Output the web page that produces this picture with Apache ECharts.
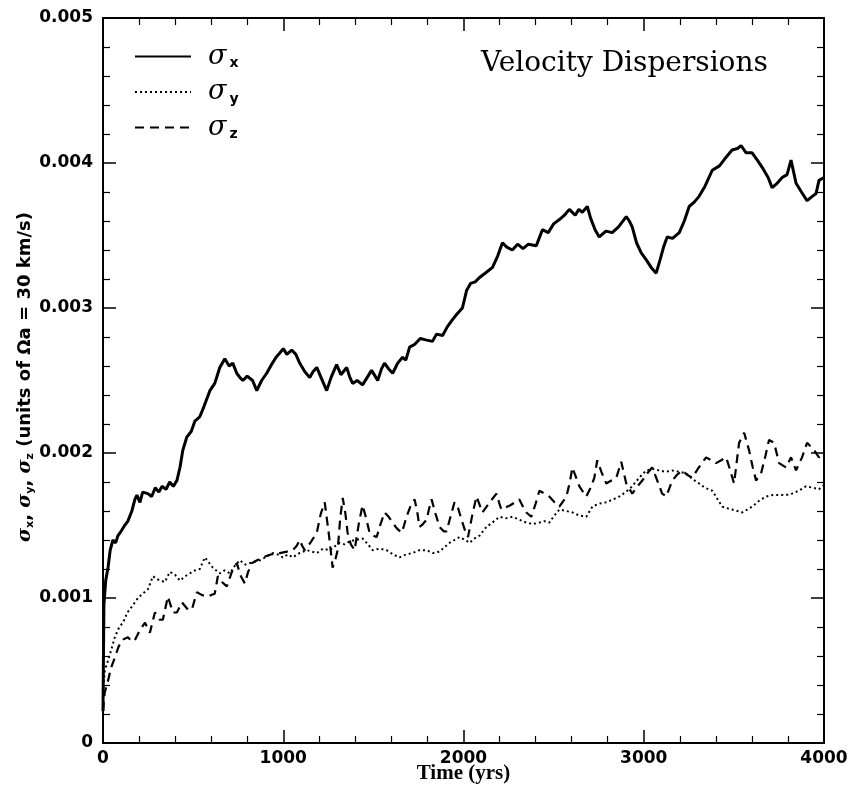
<!DOCTYPE html>
<html>
<head>
<meta charset="utf-8">
<script src="https://cdn.jsdelivr.net/npm/echarts@6/dist/echarts.min.js"></script>
<style>
  html, body { margin: 0; padding: 0; background: #fff; }
  #main { width: 849px; height: 786px; }
</style>
</head>
<body>
<div id="main"></div>
<script>
// 横轴刻度 (yrs)
const xTicks = [0, 1000, 2000, 3000, 4000]
// 纵轴刻度
const yTicks = [0, 0.001, 0.002, 0.003, 0.004, 0.005]

// sigma_x  [时间, 数值]
const sigmaX = [
  [0, 0.00022], [5, 0.00095], [15, 0.00112], [28, 0.00121], [40, 0.00133], [55, 0.0014], [70, 0.00138], [83, 0.00143],
  [100, 0.00146], [120, 0.0015], [138, 0.00153], [160, 0.0016], [177, 0.00168], [188, 0.00171], [205, 0.00166], [220, 0.00173],
  [249, 0.00172], [270, 0.0017], [290, 0.00176], [310, 0.00173], [327, 0.00177], [350, 0.00175], [370, 0.0018], [390, 0.00177],
  [410, 0.00181], [427, 0.0019], [443, 0.00202], [465, 0.00211], [490, 0.00215], [510, 0.00222], [537, 0.00225], [560, 0.00232],
  [593, 0.00243], [620, 0.00248], [648, 0.00259], [676, 0.00265], [700, 0.0026], [720, 0.00262], [742, 0.00255], [760, 0.00252],
  [776, 0.0025], [800, 0.00253], [830, 0.0025], [853, 0.00243], [880, 0.0025], [908, 0.00255], [940, 0.00262], [960, 0.00266],
  [981, 0.00269], [1000, 0.00272], [1020, 0.00268], [1047, 0.00271], [1070, 0.00268], [1091, 0.00262], [1120, 0.00256],
  [1147, 0.00252], [1165, 0.00256], [1186, 0.00259], [1210, 0.00252], [1241, 0.00243], [1265, 0.00252], [1296, 0.00261],
  [1320, 0.00254], [1352, 0.00259], [1370, 0.00252], [1385, 0.00248], [1410, 0.0025], [1440, 0.00247], [1465, 0.00252],
  [1490, 0.00257], [1510, 0.00253], [1524, 0.0025], [1545, 0.00258], [1562, 0.00262], [1585, 0.00258], [1607, 0.00255],
  [1635, 0.00262], [1662, 0.00266], [1680, 0.00264], [1701, 0.00273], [1730, 0.00275], [1760, 0.00279], [1790, 0.00278],
  [1828, 0.00277], [1850, 0.00282], [1884, 0.00281], [1910, 0.00287], [1939, 0.00292], [1965, 0.00296], [1994, 0.003],
  [2017, 0.00312], [2040, 0.00317], [2065, 0.00318], [2089, 0.00321], [2120, 0.00324], [2161, 0.00328], [2190, 0.00336],
  [2216, 0.00345], [2240, 0.00342], [2271, 0.0034], [2300, 0.00344], [2330, 0.00341], [2360, 0.00344], [2404, 0.00343],
  [2438, 0.00354], [2470, 0.00352], [2500, 0.00358], [2532, 0.00361], [2560, 0.00364], [2587, 0.00368], [2620, 0.00364],
  [2640, 0.00368], [2659, 0.00366], [2687, 0.0037], [2705, 0.00362], [2730, 0.00354], [2753, 0.00349], [2790, 0.00353],
  [2825, 0.00352], [2860, 0.00356], [2903, 0.00363], [2920, 0.0036], [2936, 0.00356], [2960, 0.00345], [2986, 0.00338],
  [3015, 0.00333], [3041, 0.00328], [3069, 0.00324], [3090, 0.00333], [3110, 0.00342], [3130, 0.00349], [3160, 0.00348],
  [3197, 0.00352], [3225, 0.0036], [3252, 0.0037], [3280, 0.00373], [3307, 0.00377], [3340, 0.00384], [3380, 0.00395],
  [3420, 0.00398], [3457, 0.00404], [3490, 0.00409], [3520, 0.0041], [3540, 0.00412], [3568, 0.00407], [3601, 0.00407],
  [3630, 0.00402], [3657, 0.00397], [3690, 0.0039], [3712, 0.00383], [3740, 0.00386], [3768, 0.0039], [3795, 0.00392],
  [3817, 0.00402], [3845, 0.00386], [3875, 0.0038], [3906, 0.00374], [3935, 0.00377], [3956, 0.00379], [3972, 0.00388],
  [4000, 0.0039]
]

// sigma_y
const sigmaY = [
  [0, 0.00035], [10, 0.0005], [28, 0.00057], [45, 0.00064], [66, 0.00073], [90, 0.0008], [111, 0.00083], [135, 0.0009],
  [160, 0.00094], [194, 0.001], [220, 0.00103], [249, 0.00106], [277, 0.00115], [300, 0.00113], [343, 0.00111], [371, 0.00118],
  [400, 0.00116], [427, 0.00112], [455, 0.00115], [482, 0.00117], [510, 0.00119], [537, 0.0012], [565, 0.00128], [590, 0.00124],
  [609, 0.00121], [648, 0.00117], [675, 0.00119], [704, 0.00117], [730, 0.00122], [759, 0.00126], [790, 0.00123], [814, 0.00124],
  [840, 0.00125], [870, 0.00126], [900, 0.00128], [942, 0.00131], [970, 0.0013], [997, 0.00128], [1025, 0.0013], [1053, 0.00128],
  [1090, 0.00131], [1130, 0.00133], [1160, 0.00132], [1186, 0.00131], [1220, 0.00134], [1258, 0.00133], [1290, 0.00136],
  [1313, 0.00138], [1340, 0.00137], [1368, 0.00139], [1400, 0.0014], [1440, 0.00141], [1470, 0.00137], [1496, 0.00133],
  [1535, 0.00134], [1573, 0.00133], [1610, 0.0013], [1645, 0.00128], [1680, 0.0013], [1717, 0.00131], [1755, 0.00133],
  [1795, 0.00133], [1830, 0.00131], [1867, 0.00132], [1895, 0.00135], [1922, 0.00138], [1950, 0.0014], [1978, 0.00142],
  [2010, 0.0014], [2033, 0.00138], [2060, 0.00141], [2089, 0.00143], [2127, 0.00149], [2160, 0.00152], [2199, 0.00156],
  [2235, 0.00155], [2271, 0.00156], [2310, 0.00154], [2349, 0.00152], [2385, 0.00151], [2421, 0.00152], [2450, 0.00153],
  [2476, 0.00152], [2505, 0.00157], [2532, 0.00161], [2570, 0.0016], [2604, 0.00159], [2640, 0.00157], [2681, 0.00156],
  [2715, 0.00163], [2750, 0.00165], [2792, 0.00166], [2830, 0.00168], [2864, 0.0017], [2900, 0.00173], [2936, 0.00177],
  [2975, 0.00183], [3014, 0.00188], [3050, 0.00189], [3086, 0.00188], [3120, 0.00187], [3158, 0.00188], [3200, 0.00187],
  [3235, 0.00186], [3270, 0.00182], [3307, 0.00179], [3340, 0.00176], [3380, 0.00174], [3410, 0.00168], [3435, 0.00163],
  [3460, 0.00162], [3490, 0.00161], [3520, 0.0016], [3546, 0.00159], [3575, 0.00161], [3601, 0.00163], [3640, 0.00167],
  [3679, 0.0017], [3715, 0.00171], [3751, 0.00171], [3790, 0.00171], [3823, 0.00172], [3860, 0.00174], [3900, 0.00177],
  [3940, 0.00176], [3972, 0.00175], [4000, 0.00178]
]

// sigma_z
const sigmaZ = [
  [0, 0.00022], [10, 0.00035], [28, 0.00043], [45, 0.00052], [66, 0.00059], [85, 0.00066], [105, 0.00071], [138, 0.00073],
  [160, 0.0007], [177, 0.00071], [205, 0.00078], [233, 0.00083], [260, 0.00076], [288, 0.0009], [316, 0.00085], [332, 0.00085],
  [360, 0.00101], [388, 0.0009], [410, 0.0009], [438, 0.00097], [471, 0.00092], [493, 0.00092], [521, 0.00104], [550, 0.00102],
  [576, 0.00101], [600, 0.00102], [620, 0.00103], [637, 0.00115], [660, 0.00111], [687, 0.00108], [715, 0.00118], [742, 0.00124],
  [765, 0.00115], [787, 0.0011], [805, 0.00118], [825, 0.00124], [855, 0.00126], [886, 0.00128], [930, 0.0013], [981, 0.00131],
  [1020, 0.00132], [1053, 0.00133], [1075, 0.00136], [1091, 0.0014], [1105, 0.00136], [1119, 0.00133], [1150, 0.00138],
  [1186, 0.00145], [1208, 0.00158], [1230, 0.00166], [1252, 0.00145], [1274, 0.00121], [1290, 0.00127], [1302, 0.00133],
  [1316, 0.00155], [1330, 0.00169], [1345, 0.00158], [1357, 0.00145], [1375, 0.00137], [1396, 0.00133], [1420, 0.00152],
  [1440, 0.00164], [1460, 0.00155], [1479, 0.00145], [1500, 0.00143], [1518, 0.00142], [1540, 0.00151], [1562, 0.00159],
  [1585, 0.00156], [1607, 0.00152], [1630, 0.00148], [1657, 0.00145], [1670, 0.0015], [1684, 0.00156], [1705, 0.00163],
  [1729, 0.00168], [1745, 0.00158], [1756, 0.00149], [1775, 0.00151], [1795, 0.00154], [1810, 0.00162], [1823, 0.00168],
  [1845, 0.00158], [1867, 0.00149], [1890, 0.00146], [1906, 0.00146], [1930, 0.00157], [1950, 0.00166], [1970, 0.00162],
  [1989, 0.00154], [2010, 0.00146], [2025, 0.00142], [2050, 0.00158], [2072, 0.0017], [2090, 0.00164], [2105, 0.00159],
  [2145, 0.00166], [2183, 0.00172], [2197, 0.00166], [2210, 0.00161], [2260, 0.00164], [2310, 0.00168], [2330, 0.00163],
  [2349, 0.00159], [2376, 0.00156], [2400, 0.00165], [2421, 0.00174], [2450, 0.00172], [2476, 0.0017], [2505, 0.00166],
  [2532, 0.00163], [2571, 0.0017], [2590, 0.0018], [2604, 0.0019], [2625, 0.00183], [2643, 0.00177], [2681, 0.0017],
  [2705, 0.00176], [2726, 0.00183], [2742, 0.00195], [2765, 0.00187], [2792, 0.00179], [2820, 0.00181], [2848, 0.00183],
  [2875, 0.00194], [2890, 0.00186], [2903, 0.00179], [2936, 0.00172], [2965, 0.00177], [2992, 0.00181], [3020, 0.00186],
  [3047, 0.0019], [3075, 0.00181], [3102, 0.00172], [3125, 0.0017], [3158, 0.00181], [3185, 0.00185], [3213, 0.00188],
  [3240, 0.00185], [3269, 0.00183], [3305, 0.0019], [3346, 0.00197], [3375, 0.00195], [3401, 0.00193], [3430, 0.00195],
  [3457, 0.00197], [3480, 0.00188], [3501, 0.00179], [3515, 0.00193], [3529, 0.00207], [3557, 0.00214], [3584, 0.00202],
  [3605, 0.0019], [3623, 0.00181], [3651, 0.00186], [3675, 0.00198], [3695, 0.00209], [3723, 0.00207], [3751, 0.00193],
  [3790, 0.0019], [3817, 0.00197], [3845, 0.00188], [3878, 0.00197], [3906, 0.00207], [3945, 0.00202], [3972, 0.00197],
  [4000, 0.002]
]

const seriesNames = ['sx', 'sy', 'sz']
const subLetters = { sx: 'x', sy: 'y', sz: 'z' }

const tickFont = 'DejaVu Sans'
const black = '#000'

// 坐标轴公共样式
function makeAxis (extra) {
  return Object.assign({
    type: 'value',
    axisLine: { show: true, onZero: false, lineStyle: { color: black, width: 2 } },
    axisTick: { show: true, inside: true, length: 13, lineStyle: { color: black, width: 1.5 } },
    minorTick: { show: true, splitNumber: 5, length: 7, lineStyle: { color: black, width: 1.2 } },
    splitLine: { show: false },
    minorSplitLine: { show: false }
  }, extra)
}

const chart = echarts.init(document.getElementById('main'), null, { renderer: 'canvas' })

const option = {
  backgroundColor: '#fff',
  animation: false,
  color: [black, black, black],
  title: {
    text: 'Velocity Dispersions',
    left: 476,
    top: 45,
    textStyle: { fontFamily: 'DejaVu Serif', fontWeight: 'normal', fontSize: 28, color: black }
  },
  legend: {
    orient: 'vertical',
    left: 129,
    top: 38,
    itemWidth: 56,
    itemHeight: 14,
    itemGap: 8,
    data: seriesNames,
    itemStyle: { opacity: 0 },
    formatter: name => '{s|σ}{sub|' + subLetters[name] + '}',
    textStyle: {
      padding: [0, 0, 0, 12],
      rich: {
        s: { fontFamily: 'DejaVu Serif', fontStyle: 'italic', fontSize: 27, lineHeight: 28, color: black },
        sub: { fontFamily: tickFont, fontWeight: 'bold', fontSize: 14, lineHeight: 12, verticalAlign: 'bottom', padding: [0, 0, 0, 3], color: black }
      }
    }
  },
  grid: { left: 103, right: 25, top: 18, bottom: 43, outerBoundsMode: 'none' },
  xAxis: [
    makeAxis({
      position: 'bottom',
      min: xTicks[0],
      max: xTicks[xTicks.length - 1],
      interval: 1000,
      axisLabel: { margin: 7, fontFamily: tickFont, fontWeight: 'bold', fontSize: 17, color: black, formatter: v => String(v) },
      name: 'Time (yrs)',
      nameLocation: 'middle',
      nameGap: 20,
      nameMoveOverlap: false,
      nameTextStyle: { fontFamily: 'Liberation Serif', fontWeight: 'bold', fontSize: 21, color: black }
    }),
    makeAxis({
      position: 'top',
      min: xTicks[0],
      max: xTicks[xTicks.length - 1],
      interval: 1000,
      axisLabel: { show: false }
    })
  ],
  yAxis: [
    makeAxis({
      position: 'left',
      min: yTicks[0],
      max: yTicks[yTicks.length - 1],
      interval: 0.001,
      axisLabel: {
        margin: 10,
        fontFamily: tickFont,
        fontWeight: 'bold',
        fontSize: 17,
        color: black,
        formatter: v => (v === 0 ? '0' : v.toFixed(3))
      }
    }),
    makeAxis({
      position: 'right',
      min: yTicks[0],
      max: yTicks[yTicks.length - 1],
      interval: 0.001,
      axisLabel: { show: false }
    })
  ],
  graphic: [{
    type: 'text',
    rotation: Math.PI / 2,
    x: 25,
    y: 377,
    style: {
      text: '{s|σ}{b|x}{t|, }{s|σ}{b|y}{t|, }{s|σ}{b|z}{t| (units of Ωa = 30 km/s)}',
      align: 'center',
      verticalAlign: 'middle',
      rich: {
        s: { fontFamily: 'DejaVu Serif', fontStyle: 'italic', fontWeight: 'bold', fontSize: 19, lineHeight: 22, fill: black },
        b: { fontFamily: tickFont, fontWeight: 'bold', fontSize: 11, lineHeight: 10, verticalAlign: 'bottom', fill: black },
        t: { fontFamily: tickFont, fontWeight: 'bold', fontSize: 18, lineHeight: 22, fill: black }
      }
    }
  }],
  series: [
    {
      name: 'sx',
      type: 'line',
      data: sigmaX,
      symbol: 'none',
      itemStyle: { color: black },
      lineStyle: { color: black, width: 3, type: 'solid' }
    },
    {
      name: 'sy',
      type: 'line',
      data: sigmaY,
      symbol: 'none',
      itemStyle: { color: black },
      lineStyle: { color: black, width: 2, type: [2, 3] }
    },
    {
      name: 'sz',
      type: 'line',
      data: sigmaZ,
      symbol: 'none',
      itemStyle: { color: black },
      lineStyle: { color: black, width: 2.2, type: [9, 6] }
    }
  ]
}

chart.setOption(option)
</script>
</body>
</html>
